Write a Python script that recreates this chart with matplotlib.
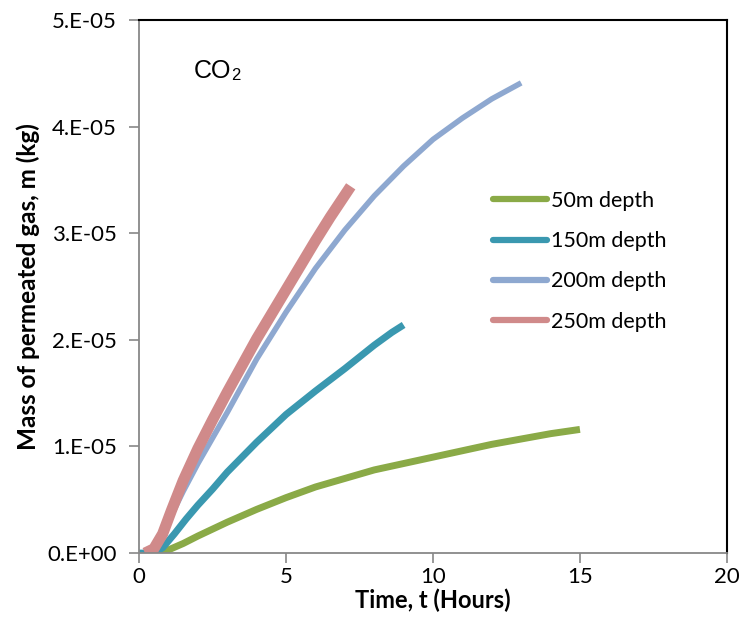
import matplotlib.pyplot as plt
import numpy as np

# Veri (kutle birimi 1E-05 kg)
t_50 = [0.6, 1, 1.5, 2, 3, 4, 5, 6, 7, 8, 9, 10, 11, 12, 13, 14, 15]
m_50 = [0, 0.03, 0.09, 0.16, 0.29, 0.41, 0.52, 0.62, 0.70, 0.78, 0.84, 0.90, 0.96, 1.02, 1.07, 1.12, 1.16]

t_150 = [0, 0.5, 0.8, 1.2, 1.6, 2, 2.5, 3, 4, 5, 6, 7, 8, 8.6, 9]
m_150 = [0, 0, 0.05, 0.18, 0.32, 0.45, 0.60, 0.76, 1.04, 1.30, 1.52, 1.73, 1.95, 2.07, 2.14]

t_200 = [0.3, 0.6, 1.0, 1.5, 2.0, 2.5, 3, 4, 5, 6, 7, 8, 9, 10, 11, 12, 13]
m_200 = [0, 0.08, 0.30, 0.58, 0.84, 1.08, 1.32, 1.82, 2.26, 2.67, 3.03, 3.35, 3.63, 3.88, 4.08, 4.26, 4.41]

t_250 = [0.2, 0.5, 0.8, 1.1, 1.5, 2.0, 2.5, 3.0, 3.5, 4.0, 4.5, 5.0, 5.5, 6.0, 6.5, 7.2]
m_250 = [0, 0.04, 0.18, 0.40, 0.68, 0.98, 1.25, 1.51, 1.76, 2.01, 2.24, 2.47, 2.70, 2.93, 3.15, 3.44]

labels = ["50m depth", "150m depth", "200m depth", "250m depth"]
colors = ["#8AAA47", "#3A98B0", "#8EA8D0", "#D08A8A"]
widths = [5.0, 5.0, 4.0, 8.0]

x_ticks = [0, 5, 10, 15, 20]
y_ticks = [0, 1e-5, 2e-5, 3e-5, 4e-5, 5e-5]
y_tick_labels = ["0.E+00", "1.E-05", "2.E-05", "3.E-05", "4.E-05", "5.E-05"]

plt.rcParams['font.family'] = ['Lato', 'DejaVu Sans']

fig = plt.figure(figsize=(7.44, 6.35), dpi=100)
ax = fig.add_axes([0.187, 0.129, 0.79, 0.8395])

series = [(t_50, m_50), (t_150, m_150), (t_200, m_200), (t_250, m_250)]
for (t, m), lab, c, w in zip(series, labels, colors, widths):
    ax.plot(t, np.array(m) * 1e-5, color=c, lw=w, label=lab,
            solid_capstyle="butt", solid_joinstyle="round")

ax.set_xlim(0, 20)
ax.set_ylim(0, 5e-5)
ax.set_xticks(x_ticks)
ax.set_yticks(y_ticks)
ax.set_yticklabels(y_tick_labels)
ax.tick_params(axis="both", direction="out", length=7, width=1.2, color="#888888",
               labelsize=16)
ax.tick_params(axis="y", pad=9)
ax.tick_params(axis="x", pad=3)

for s in ["left", "bottom"]:
    ax.spines[s].set_color("#888888")
    ax.spines[s].set_linewidth(1.3)
for s in ["top", "right"]:
    ax.spines[s].set_color("black")
    ax.spines[s].set_linewidth(1.5)

ax.set_xlabel("Time, t (Hours)", fontsize=17, fontweight="bold", labelpad=1)
ax.set_ylabel("Mass of permeated gas, m (kg)", fontsize=17.5, fontweight="bold", labelpad=5)

co = ax.text(0.093, 0.905, "CO", transform=ax.transAxes, fontsize=18,
             family=["Liberation Sans", "DejaVu Sans"], va="center")
ax.annotate("2", xy=(1.0, 0.0), xycoords=co, fontsize=12,
            family=["Liberation Sans", "DejaVu Sans"], va="bottom", ha="left")

leg = ax.legend(loc="upper left", bbox_to_anchor=(0.602, 0.68), frameon=False,
                fontsize=15.5, handlelength=2.5, handletextpad=0.2, labelspacing=0.95,
                borderaxespad=0, borderpad=0)
for h in leg.get_lines():
    h.set_linewidth(4.5)
    h.set_solid_capstyle("round")

plt.savefig("out.png", dpi=100)
